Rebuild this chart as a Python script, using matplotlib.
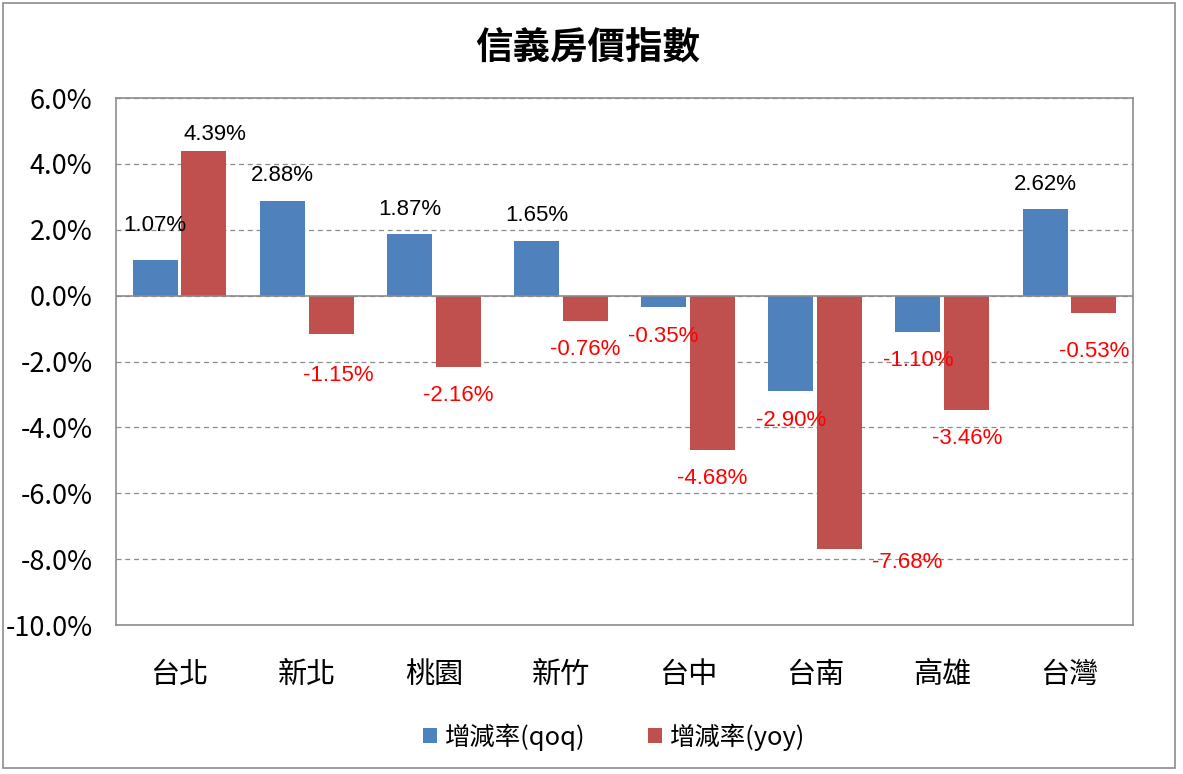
import numpy as np
import matplotlib.pyplot as plt
from matplotlib.patches import Rectangle

# data
cities = ['台北', '新北', '桃園', '新竹', '台中', '台南', '高雄', '台灣']
qoq = [1.07, 2.88, 1.87, 1.65, -0.35, -2.90, -1.10, 2.62]
yoy = [4.39, -1.15, -2.16, -0.76, -4.68, -7.68, -3.46, -0.53]

# label nudges in pixels (dx, dy), labels were dragged around in the original
qoq_off = [(0, 35), (0, 25), (0, 25), (0, 26), (0, -29), (0, -29), (0, -29), (0, 25)]
yoy_off = [(11, 17), (7, -42), (0, -29), (0, -29), (0, -29), (68, -14), (0, -29), (0, -38)]

cjk = ['Noto Sans CJK TC', 'DejaVu Sans']
latin = ['Liberation Sans', 'DejaVu Sans']
plt.rcParams['font.family'] = cjk

fig = plt.figure(figsize=(11.83, 7.74), dpi=100)
ax = fig.add_axes([116/1183, 1 - 625/774, (1133-116)/1183, (625-98)/774])

# outer frame
fig.patches.append(Rectangle((3/1183, 6/774), 1172/1183, 765/774, transform=fig.transFigure,
                             fill=False, edgecolor='#8c8c8c', linewidth=1.2))

x = np.arange(len(cities))
w = 0.354
gap = 0.03
b1 = ax.bar(x - w/2 - gap/2, qoq, w, color='#4f81bd', label='增減率(qoq)', zorder=3)
b2 = ax.bar(x + w/2 + gap/2, yoy, w, color='#c0504d', label='增減率(yoy)', zorder=3)

for bars, vals, offs in ((b1, qoq, qoq_off), (b2, yoy, yoy_off)):
    for r, v, (dx, dy) in zip(bars, vals, offs):
        ax.annotate('%.2f%%' % v, (r.get_x() + r.get_width()/2, v),
                    xytext=(dx, dy), textcoords='offset pixels',
                    ha='center', va='center', fontsize=16, family=latin,
                    color='black' if v >= 0 else '#ff0000', zorder=4)

ax.set_xlim(-0.5, len(cities) - 0.5)
ax.set_ylim(-10, 6)
ax.set_yticks(np.arange(-10, 7, 2))
ax.set_yticklabels(['%.1f%%' % t for t in np.arange(-10, 7, 2)], fontsize=19.5)
ax.set_xticks(x)
ax.set_xticklabels(cities, fontsize=21)
ax.tick_params(axis='y', length=0, pad=17)
ax.tick_params(axis='x', length=0, pad=25)

ax.grid(axis='y', linestyle=(0, (4, 3)), color='#8c8c8c', linewidth=0.9, zorder=0)
ax.axhline(0, color='#8c8c8c', linewidth=1.2, zorder=3.5)
for s in ax.spines.values():
    s.set_color('#8c8c8c')
    s.set_linewidth(1.2)

fig.text(0.497, 1 - 48/774, '信義房價指數', ha='center', va='center',
         fontsize=27, fontweight='bold')

fig.legend(loc='center', bbox_to_anchor=(0.519, 1 - 737/774), ncol=2, frameon=False,
           fontsize=18.3, handlelength=0.55, handleheight=0.55, columnspacing=2.45,
           handletextpad=0.31)

fig.savefig('out.png', dpi=100)
